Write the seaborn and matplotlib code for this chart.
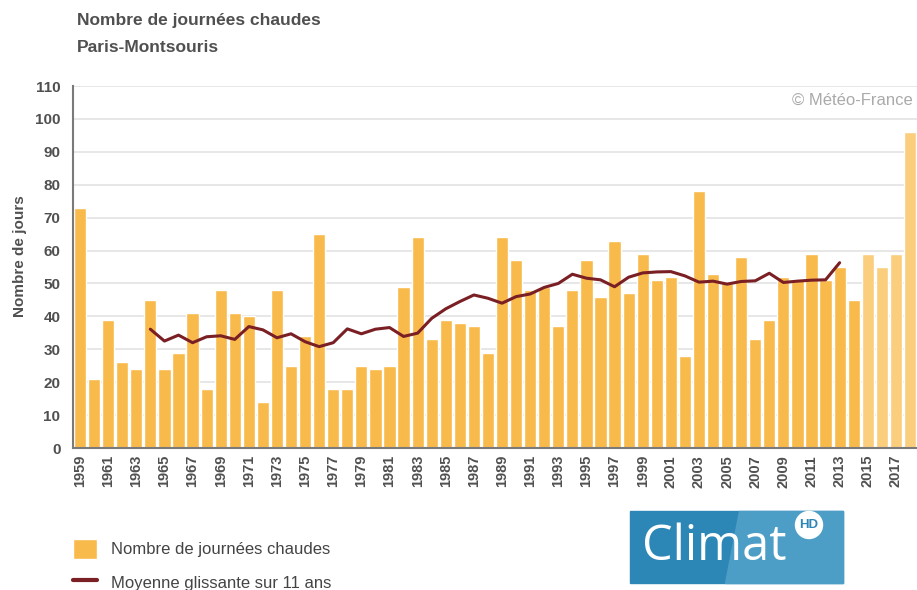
import pandas as pd
import matplotlib.pyplot as plt
import seaborn as sns
from matplotlib.patches import Patch, Rectangle, Polygon, Circle
from matplotlib.lines import Line2D

# data
years = list(range(1959, 2019))
hot_days = [73, 21, 39, 26, 24, 45, 24, 29, 41, 18,
            48, 41, 40, 14, 48, 25, 34, 65, 18, 18,
            25, 24, 25, 49, 64, 33, 39, 38, 37, 29,
            64, 57, 48, 49, 37, 48, 57, 46, 63, 47,
            59, 51, 52, 28, 78, 53, 50, 58, 33, 39,
            52, 51, 59, 51, 55, 45, 59, 55, 59, 96]
first_provisional = 2015

ma_years = list(range(1964, 2014))
ma_values = [36.1, 32.5, 34.3, 32.0, 33.8, 34.1, 33.0, 36.9, 35.9, 33.5,
             34.7, 32.3, 30.8, 32.0, 36.2, 34.7, 36.1, 36.6, 33.9, 34.9,
             39.4, 42.3, 44.5, 46.5, 45.5, 44.0, 46.0, 46.8, 48.8, 50.0,
             52.8, 51.6, 51.1, 49.0, 51.9, 53.2, 53.5, 53.6, 52.3, 50.4,
             50.7, 49.8, 50.6, 50.8, 53.1, 50.3, 50.7, 51.0, 51.1, 56.3]

bar_color = '#F9BA4C'
prov_color = '#FBCE7E'
line_color = '#7A1F24'
text_grey = '#505050'

sns.set_theme(style="white")
plt.rcParams['font.family'] = ['Liberation Sans', 'DejaVu Sans']

df = pd.DataFrame({'year': years, 'days': hot_days})
df['status'] = ['prov' if y >= first_provisional else 'obs' for y in years]

fig = plt.figure(figsize=(9.17, 5.9), dpi=100)
ax = fig.add_axes([73/917, 1 - 448/590, 844/917, 362/590])

sns.barplot(data=df, x='year', y='days', hue='status',
            palette={'obs': bar_color, 'prov': prov_color},
            native_scale=True, width=0.87, dodge=False, legend=False,
            saturation=1, errorbar=None, ax=ax)
sns.lineplot(x=ma_years, y=ma_values, color=line_color, linewidth=2.2, ax=ax)

ax.set_xlim(1958.5, 2018.5)
ax.set_ylim(0, 110)
ax.set_yticks(range(0, 111, 10))
xt = list(range(1959, 2018, 2))
ax.set_xticks(xt)
ax.set_xticklabels([str(y) for y in xt], rotation=90, fontsize=10.5,
                   fontweight='bold', color=text_grey)
ax.set_yticklabels([str(v) for v in range(0, 111, 10)], fontsize=11,
                   fontweight='bold', color=text_grey)
ax.tick_params(axis='both', length=0)
ax.tick_params(axis='y', pad=9)
ax.tick_params(axis='x', pad=5)

ax.grid(axis='y', color='#E3E3E3', linewidth=1.2)
ax.set_axisbelow(True)
for s in ['top', 'right']:
    ax.spines[s].set_visible(False)
for s in ['left', 'bottom']:
    ax.spines[s].set_color('#7A7A7A')
    ax.spines[s].set_linewidth(1.5)

ax.set_xlabel('')
ax.set_ylabel('Nombre de jours', fontsize=11, fontweight='bold', color=text_grey)
ax.yaxis.set_label_coords(-0.054, 0.53)

ax.text(0.995, 0.961, '© Météo-France', transform=ax.transAxes, ha='right',
        va='center', fontsize=12, color='#AAAAAA')

# titles
fig.text(77/917, 1 - 21/590, 'Nombre de journées chaudes', ha='left', va='center',
         fontsize=12.5, fontweight='bold', color=text_grey)
fig.text(77/917, 1 - 47.5/590, 'Paris-Montsouris', ha='left', va='center',
         fontsize=12.5, fontweight='bold', color=text_grey)

# legend
handles = [Patch(facecolor=bar_color, label='Nombre de journées chaudes'),
           Line2D([0], [0], color=line_color, lw=3, label='Moyenne glissante sur 11 ans')]
fig.legend(handles=handles, loc='upper left', bbox_to_anchor=(73/917, 1 - 539/590),
           frameon=False, fontsize=12, handlelength=1.45, handleheight=1.45,
           handletextpad=0.84, labelspacing=0.8, labelcolor='#444444',
           borderaxespad=0, borderpad=0)

# Climat HD logo
fig.patches.append(Rectangle((630/917, 1 - 583/590), 213/917, 72/590,
                             transform=fig.transFigure, color='#2C87B7'))
fig.patches.append(Polygon([(739/917, 1 - 511/590), (843/917, 1 - 511/590),
                            (843/917, 1 - 583/590), (725/917, 1 - 583/590)],
                           closed=True, transform=fig.transFigure, color='#4D9EC6'))
fig.text(642/917, 1 - 547/590, 'Climat', ha='left', va='center', fontsize=35,
         color='white', family='Open Sans')
fig.patches.append(Circle((8.09, (590 - 525)/100), 0.135,
                          transform=fig.dpi_scale_trans, facecolor='white'))
fig.text(809/917, 1 - 525/590, 'HD', ha='center', va='center', fontsize=9.5,
         fontweight='bold', color='#2C87B7')

fig.savefig('out.png', dpi=100)
